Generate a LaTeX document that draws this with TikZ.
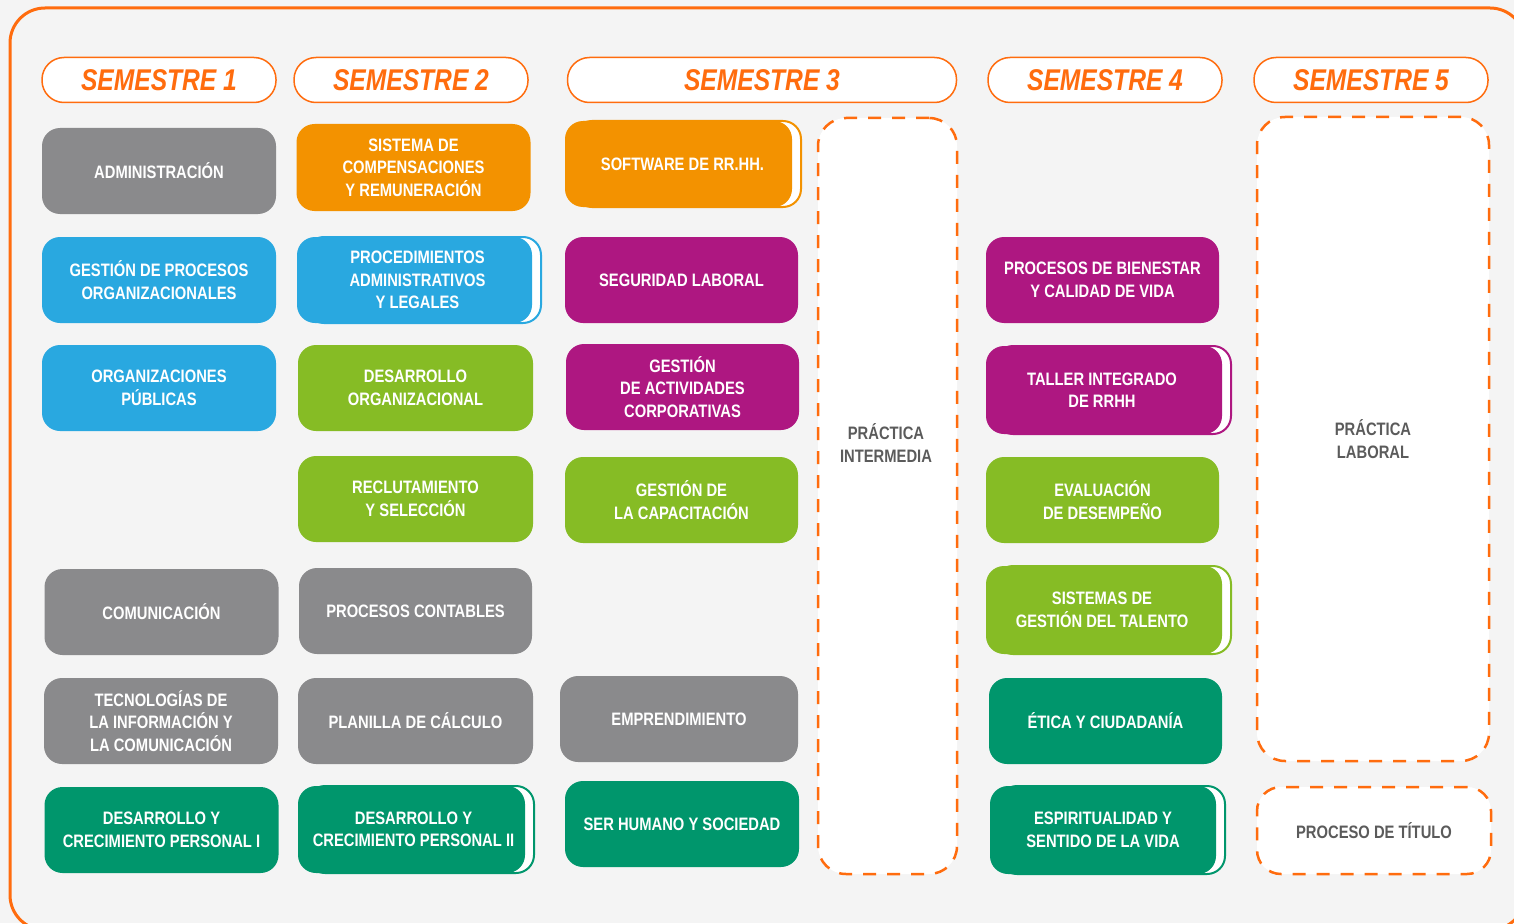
\documentclass[tikz,border=0pt]{standalone}
\usepackage{fontspec}
\setmainfont{Liberation Sans}[FakeStretch=0.82]
\usepackage{tikz}
\usetikzlibrary{shadows}
\definecolor{bgback}{HTML}{F4F4F4}
\definecolor{lineorange}{HTML}{FF6C0E}
\definecolor{cgray}{HTML}{8A8A8C}
\definecolor{cblue}{HTML}{29A8E0}
\definecolor{corange}{HTML}{F39200}
\definecolor{cmagenta}{HTML}{AE1781}
\definecolor{clgreen}{HTML}{86BC25}
\definecolor{cdgreen}{HTML}{00966C}
\definecolor{cdtext}{HTML}{5B5B5B}
\tikzset{course/.style={rounded corners=18pt, minimum width=234pt, minimum height=86pt,
    inner sep=0pt, text=white, align=center, fill=#1,
    font=\bfseries\fontsize{18}{22.5}\selectfont}}
\tikzset{stacked/.style={general shadow={shadow xshift=9pt, shadow yshift=0pt,
    fill=white, draw=#1, line width=2pt}}}
\tikzset{semhead/.style={rounded corners=22pt, minimum width=234pt, minimum height=45pt,
    draw=lineorange, line width=1.5pt, fill=white, text=lineorange,
    font=\bfseries\itshape\fontsize{30}{36}\selectfont}}
\tikzset{openbox/.style={draw=lineorange, line width=2.5pt, dash pattern=on 13pt off 11pt,
    fill=white, rounded corners=28pt, inner sep=0pt, text=cdtext, align=center,
    font=\bfseries\fontsize{18}{22.5}\selectfont}}
\begin{document}
\begin{tikzpicture}[x=1pt,y=-1pt]
                \fill[bgback] (0,0) rectangle (1514,923);
                \useasboundingbox (0,0) rectangle (1514,923);
                \draw[lineorange,line width=3pt,rounded corners=35pt] (10,8) rectangle (1525,930);
                
                % Semesters
                \node[semhead] (sem1) at (159,80) {SEMESTRE 1};
                \node[semhead] (sem2) at (411,80) {SEMESTRE 2};
                \node[semhead,minimum width=389pt] (sem3) at (762,80) {SEMESTRE 3};
                \node[semhead] (sem4) at (1105,80) {SEMESTRE 4};
                \node[semhead] (sem5) at (1371,80) {SEMESTRE 5};
                
                % Semester 1
                \node[course=cgray] (adm) at (159,171) {ADMINISTRACIÓN};
                \node[course=cblue] (gproc) at (159,280) {GESTIÓN DE PROCESOS\\ORGANIZACIONALES};
                \node[course=cblue] (orgpub) at (159,388) {ORGANIZACIONES\\PÚBLICAS};
                \node[course=cgray] (comun) at (161.5,612) {COMUNICACIÓN};
                \node[course=cgray] (tic) at (161,721) {TECNOLOGÍAS DE\\LA INFORMACIÓN Y\\LA COMUNICACIÓN};
                \node[course=cdgreen] (dcp1) at (161.5,830) {DESARROLLO Y\\CRECIMIENTO PERSONAL I};
                
                % Semester 2
                \node[course=corange,minimum height=87pt] (compens) at (413.5,167.5) {SISTEMA DE\\COMPENSACIONES\\Y REMUNERACIÓN};
                \node[course=cblue,minimum width=235pt,stacked=cblue] (procadm) at (414.5,280) {\hspace*{6pt}PROCEDIMIENTOS\\\hspace*{6pt}ADMINISTRATIVOS\\\hspace*{6pt}Y LEGALES};
                \node[course=clgreen,minimum width=235pt] (desorg) at (415.5,388) {DESARROLLO\\ORGANIZACIONAL};
                \node[course=clgreen,minimum width=235pt] (reclut) at (415.5,499) {RECLUTAMIENTO\\Y SELECCIÓN};
                \node[course=cgray,minimum width=233pt] (pcont) at (415.5,611) {PROCESOS CONTABLES};
                \node[course=cgray,minimum width=235pt] (planilla) at (415.5,721) {PLANILLA DE CÁLCULO};
                \node[course=cdgreen,minimum width=227pt,minimum height=87pt,stacked=cdgreen] (dcp2) at (411.5,829.5) {\hspace*{4pt}DESARROLLO Y\\\hspace*{4pt}CRECIMIENTO PERSONAL II};
                
                % Semester 3
                \node[course=corange,minimum width=227pt,stacked=corange] (software) at (678.5,164) {\hspace*{8pt}SOFTWARE DE RR.HH.};
                \node[course=cmagenta,minimum width=233pt] (seglab) at (681.5,280) {SEGURIDAD LABORAL};
                \node[course=cmagenta,minimum width=233pt] (gact) at (682.5,387) {GESTIÓN\\DE ACTIVIDADES\\CORPORATIVAS};
                \node[course=clgreen,minimum width=233pt] (gcap) at (681.5,500) {GESTIÓN DE\\LA CAPACITACIÓN};
                \node[course=cgray,minimum width=238pt] (empr) at (679,719) {EMPRENDIMIENTO};
                \node[course=cdgreen] (shs) at (682,824) {SER HUMANO Y SOCIEDAD};
                \node[openbox,minimum width=139pt,minimum height=756pt] (pinter) at (887.5,496) {};
                \node[text=cdtext,align=center,font=\bfseries\fontsize{18}{22.5}\selectfont] (pintertxt) at (886,443) {PRÁCTICA\\INTERMEDIA};
                
                % Semester 4
                \node[course=cmagenta,minimum width=233pt] (bienestar) at (1102.5,280) {PROCESOS DE BIENESTAR\\Y CALIDAD DE VIDA};
                \node[course=cmagenta,minimum width=236pt,minimum height=88pt,stacked=cmagenta] (taller) at (1104,390) {TALLER INTEGRADO\hspace*{4pt}\\DE RRHH\hspace*{4pt}};
                \node[course=clgreen,minimum width=233pt] (evalua) at (1102.5,500) {EVALUACIÓN\\DE DESEMPEÑO};
                \node[course=clgreen,minimum width=236pt,minimum height=88pt,stacked=clgreen] (talento) at (1104,610) {SISTEMAS DE\hspace*{4pt}\\GESTIÓN DEL TALENTO\hspace*{4pt}};
                \node[course=cdgreen,minimum width=233pt] (etica) at (1105.5,721) {ÉTICA Y CIUDADANÍA};
                \node[course=cdgreen,minimum width=226pt,minimum height=88pt,stacked=cdgreen] (espirit) at (1103,830) {ESPIRITUALIDAD Y\\SENTIDO DE LA VIDA};
                
                % Semester 5
                \node[openbox,minimum width=232pt,minimum height=644pt] (plaboral) at (1373,439) {PRÁCTICA\\LABORAL};
                \node[openbox,minimum width=234pt,minimum height=87pt,rounded corners=24pt] (ptitulo) at (1374,830.5) {PROCESO DE TÍTULO};
            \end{tikzpicture}
\end{document}
